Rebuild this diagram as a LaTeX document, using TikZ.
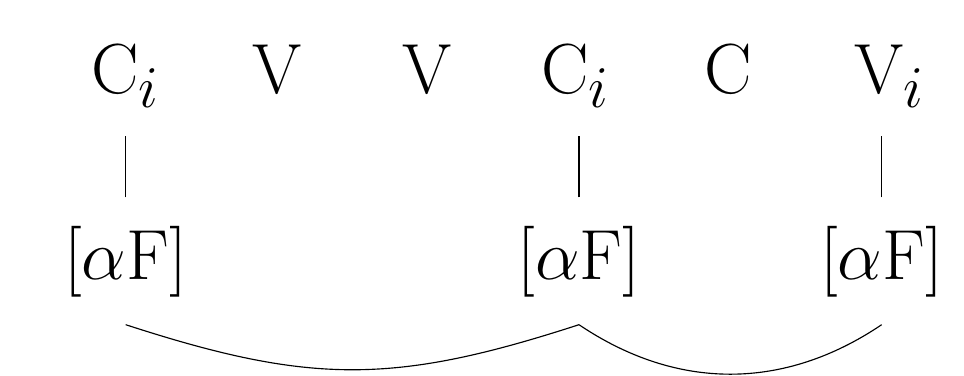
\documentclass[tikz,border=0pt]{standalone}
\usepackage{tikz}
\usetikzlibrary{positioning}

\begin{document}
\begin{tikzpicture}[x=1cm,y=1cm,
 seg/.style={font=\Huge,inner sep=0pt,anchor=base},
 feat/.style={font=\Huge,inner sep=0pt,anchor=base},
 assoc/.style={shorten <=10pt,shorten >=10pt}]
\useasboundingbox (0,0) rectangle (11.873,4.631);
% segments
\foreach \x/\t [count=\n] in {1.546/C$_i$,3.411/V,5.265/V,7.088/C$_i$,8.972/C,10.955/V$_i$}
 \node[seg] (s\n) at (\x,3.485) {\t};
% features
\node[feat] (f1) at (1.548,1.187) {[$\alpha$F]};
\node[feat] (f2) at (7.131,1.187) {[$\alpha$F]};
\node[feat] (f3) at (10.859,1.187) {[$\alpha$F]};
\draw[assoc] (f1.north) -- (f1.north |- s1.south);
\draw[assoc] (f2.north) -- (f2.north |- s4.south);
\draw[assoc] (f3.north) -- (f3.north |- s6.south);
\draw ([yshift=-9.4pt]f1.south) to[bend right=18,looseness=1.1] ([yshift=-9.4pt]f2.south);
\draw ([yshift=-9.4pt]f2.south) to[bend right=34] ([yshift=-9.4pt]f3.south);
\end{tikzpicture}
\end{document}
